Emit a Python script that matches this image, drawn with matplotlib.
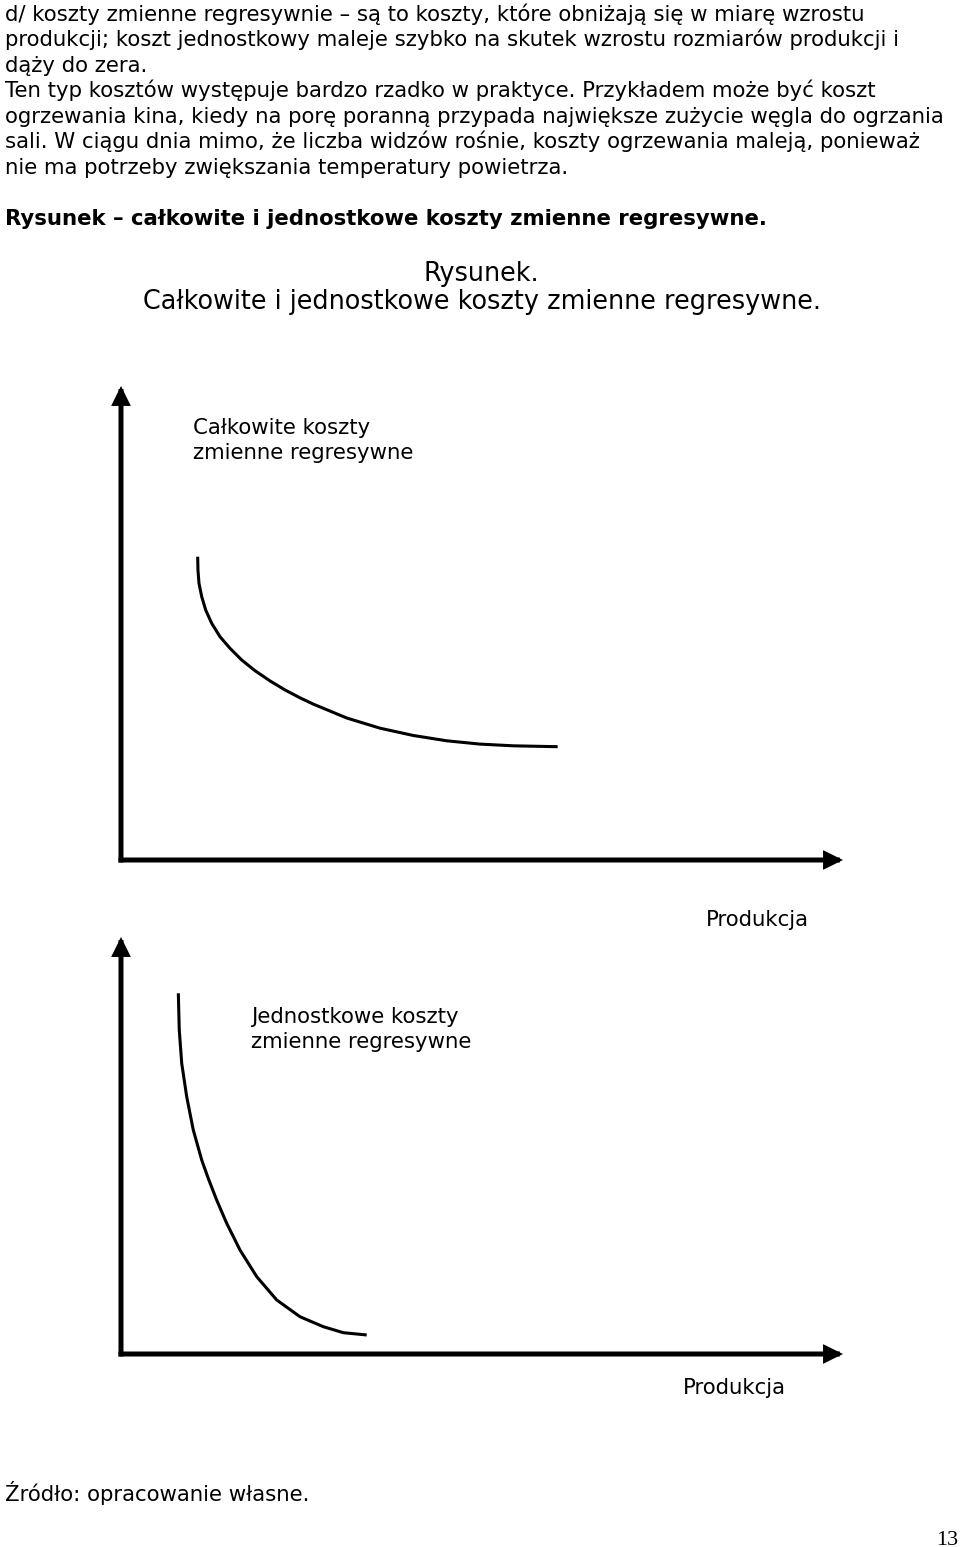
import matplotlib
matplotlib.use("Agg")
import matplotlib.pyplot as plt

plt.rcParams['font.family'] = ['DejaVu Sans']

# ---- data (axes in arbitrary 0-100 units) ----
total_production = [10.62, 10.66, 10.80, 11.18, 11.73, 12.56, 13.71, 15.10, 16.72,
                    18.56, 20.64, 22.71, 24.79, 26.63, 31.26, 35.87, 40.48, 45.11,
                    49.72, 54.34, 60.48]
total_cost = [63.99, 61.18, 58.38, 55.55, 52.74, 49.94, 47.11, 44.66, 42.19,
              39.94, 37.78, 35.88, 34.22, 32.89, 29.96, 27.81, 26.27, 25.15,
              24.45, 24.09, 23.90]

unit_production = [7.94, 8.07, 8.41, 9.10, 10.01, 11.18, 12.09, 13.25, 14.64,
                   16.48, 18.80, 21.57, 24.79, 28.02, 30.79, 34.03]
unit_cost = [86.50, 77.70, 69.71, 61.70, 53.72, 46.52, 42.09, 36.93, 31.34,
             24.94, 18.54, 12.95, 8.94, 6.55, 5.11, 4.56]

body_lines = [
    "d/ koszty zmienne regresywnie \u2013 s\u0105 to koszty, kt\u00f3re obni\u017caj\u0105 si\u0119 w miar\u0119 wzrostu",
    "produkcji; koszt jednostkowy maleje szybko na skutek wzrostu rozmiar\u00f3w produkcji i",
    "d\u0105\u017cy do zera.",
    "Ten typ koszt\u00f3w wyst\u0119puje bardzo rzadko w praktyce. Przyk\u0142adem mo\u017ce by\u0107 koszt",
    "ogrzewania kina, kiedy na por\u0119 porann\u0105 przypada najwi\u0119ksze zu\u017cycie w\u0119gla do ogrzania",
    "sali. W ci\u0105gu dnia mimo, \u017ce liczba widz\u00f3w ro\u015bnie, koszty ogrzewania malej\u0105, poniewa\u017c",
    "nie ma potrzeby zwi\u0119kszania temperatury powietrza.",
]
bold_caption = "Rysunek \u2013 ca\u0142kowite i jednostkowe koszty zmienne regresywne."
title_lines = ["Rysunek.", "Ca\u0142kowite i jednostkowe koszty zmienne regresywne."]
label_total = ["Ca\u0142kowite koszty", "zmienne regresywne"]
label_unit = ["Jednostkowe koszty", "zmienne regresywne"]
x_label = "Produkcja"
source = "\u0179r\u00f3d\u0142o: opracowanie w\u0142asne."
page_number = "13"

# ---- figure ----
W, H = 960, 1547
fig = plt.figure(figsize=(W / 100, H / 100), dpi=100)
fig.patch.set_facecolor("white")


def fy(py):
    return 1 - py / H


def fx(px):
    return px / W


BODY = 15.3
TITLE = 18.4
baselines = [20.7, 46.2, 71.7, 97.2, 122.7, 148.2, 173.7]
for line, b in zip(body_lines, baselines):
    fig.text(fx(5), fy(b), line, fontsize=BODY, va="baseline", ha="left")
fig.text(fx(5), fy(225.3), bold_caption, fontsize=BODY, fontweight="bold",
         va="baseline", ha="left")
fig.text(fx(481), fy(280.7), title_lines[0], fontsize=TITLE, va="baseline", ha="center")
fig.text(fx(482), fy(309.3), title_lines[1], fontsize=TITLE, va="baseline", ha="center")


def make_axes(bottom_px, top_px, production, cost):
    left_px, right_px = 121, 843
    ax = fig.add_axes([fx(left_px), fy(bottom_px), (right_px - left_px) / W,
                       (bottom_px - top_px) / H])
    ax.set_xlim(0, 100)
    ax.set_ylim(0, 100)
    ax.axis("off")
    ax.plot(production, cost, color="black", lw=2.2, solid_capstyle="butt",
            solid_joinstyle="round")
    style = "-|>,head_length=0.85,head_width=0.42"
    for tip in [(0, 1), (1, 0)]:
        ax.annotate("", xy=tip, xytext=(0, 0), xycoords="axes fraction",
                    textcoords="axes fraction",
                    arrowprops=dict(arrowstyle=style, color="black", lw=3.6,
                                    mutation_scale=10, shrinkA=0, shrinkB=0,
                                    capstyle="projecting", joinstyle="miter"))
    return ax


ax1 = make_axes(860, 386, total_production, total_cost)
ax2 = make_axes(1354, 937, unit_production, unit_cost)

fig.text(fx(193), fy(434), label_total[0], fontsize=BODY, va="baseline")
fig.text(fx(193), fy(459.3), label_total[1], fontsize=BODY, va="baseline")
fig.text(fx(251), fy(1022.7), label_unit[0], fontsize=BODY, va="baseline")
fig.text(fx(251), fy(1048.3), label_unit[1], fontsize=BODY, va="baseline")
fig.text(fx(706), fy(926), x_label, fontsize=BODY, va="baseline")
fig.text(fx(683), fy(1394), x_label, fontsize=BODY, va="baseline")

fig.text(fx(5), fy(1501), source, fontsize=BODY, va="baseline")
fig.text(fx(958), fy(1545), page_number, fontsize=16, va="baseline", ha="right",
         family=["Liberation Serif", "DejaVu Serif"])

fig.savefig("out.png", dpi=100, facecolor="white")
